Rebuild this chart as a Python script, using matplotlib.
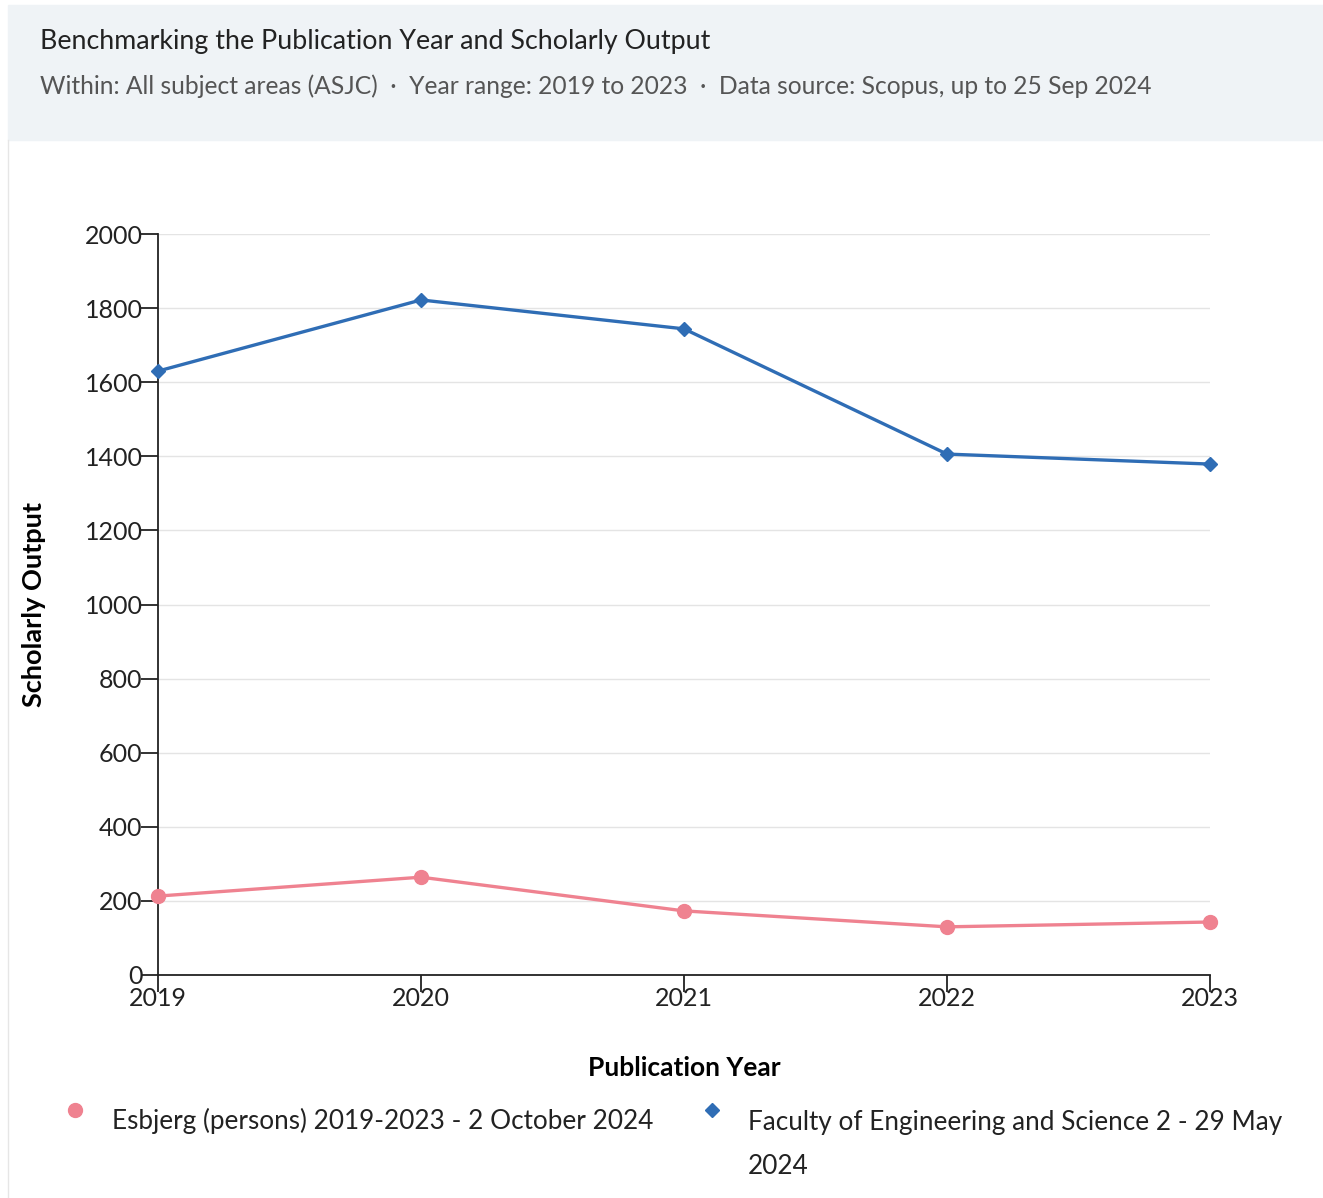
import matplotlib.pyplot as plt
from matplotlib.patches import Rectangle
from matplotlib.lines import Line2D

years = [2019, 2020, 2021, 2022, 2023]
esbjerg = [213, 264, 173, 130, 143]
faculty = [1630, 1822, 1744, 1406, 1379]
yticks = [0, 200, 400, 600, 800, 1000, 1200, 1400, 1600, 1800, 2000]

label_esbjerg = "Esbjerg (persons) 2019-2023 - 2 October 2024"
label_faculty = "Faculty of Engineering and Science 2 - 29 May\n2024"

pink = "#ef8290"
blue = "#2f6db5"

plt.rcParams["font.family"] = ["Lato", "DejaVu Sans"]

fig = plt.figure(figsize=(13.23, 11.98), dpi=100)

# header band
fig.add_artist(Rectangle((8 / 1323, 1 - 140 / 1198), 1, (135) / 1198,
                         transform=fig.transFigure, color="#eff3f6", zorder=0))
fig.add_artist(Line2D([8 / 1323, 8 / 1323], [0, 1 - 140 / 1198],
                      transform=fig.transFigure, color="#e6e6e6", lw=1))
fig.text(40 / 1323, 1 - 41 / 1198, "Benchmarking the Publication Year and Scholarly Output",
         fontsize=19.3, color="#222222", va="center", ha="left")
fig.text(40 / 1323, 1 - 86 / 1198,
         "Within: All subject areas (ASJC)  ·  Year range: 2019 to 2023  ·  Data source: Scopus, up to 25 Sep 2024",
         fontsize=17.7, color="#555555", va="center", ha="left")

ax = fig.add_axes([158 / 1323, 1 - 975 / 1198, (1210 - 158) / 1323, (975 - 234) / 1198])

ax.plot(years, esbjerg, color=pink, lw=2.4, marker="o", ms=10, clip_on=False, zorder=3)
ax.plot(years, faculty, color=blue, lw=2.4, marker="D", ms=7, clip_on=False, zorder=3)

ax.set_xlim(2019, 2023)
ax.set_ylim(0, 2000)
ax.set_xticks(years)
ax.set_yticks(yticks)
ax.grid(axis="y", color="#e4e4e4", lw=1)
ax.set_axisbelow(True)
for s in ["top", "right"]:
    ax.spines[s].set_visible(False)
for s in ["left", "bottom"]:
    ax.spines[s].set_color("#222222")
    ax.spines[s].set_linewidth(1.3)
ax.tick_params(axis="y", length=12, width=1.3, pad=-1, labelsize=18, colors="#222222")
ax.tick_params(axis="x", length=12, width=1.3, pad=-3, labelsize=18, colors="#222222")

ax.set_ylabel("Scholarly Output", fontsize=19.5, fontweight="bold", labelpad=28)
ax.set_xlabel("Publication Year", fontsize=19, fontweight="bold", labelpad=33)

# legend
fig.add_artist(Line2D([75 / 1323], [1 - 1110 / 1198], transform=fig.transFigure,
                      marker="o", ms=10, color=pink, lw=0))
fig.text(112 / 1323, 1 - 1121 / 1198, label_esbjerg, fontsize=18.8, color="#222222",
         va="center", ha="left")
fig.add_artist(Line2D([712 / 1323], [1 - 1110 / 1198], transform=fig.transFigure,
                      marker="D", ms=7, color=blue, lw=0))
fig.text(748 / 1323, 1 - 1110 / 1198, label_faculty, fontsize=18.8, color="#222222",
         va="top", ha="left", linespacing=1.95)

fig.savefig("out.png", dpi=100)
